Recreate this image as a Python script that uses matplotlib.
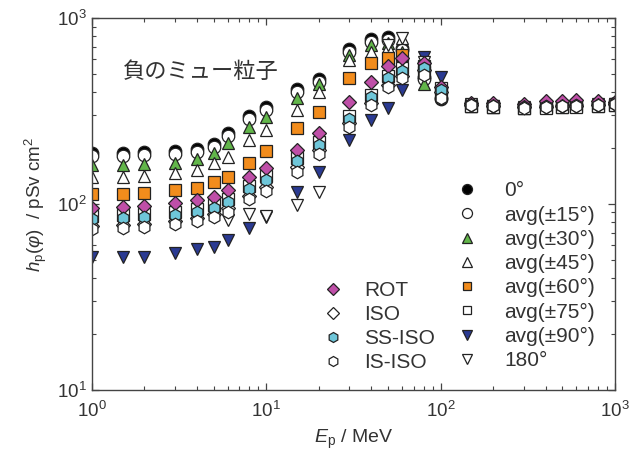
import matplotlib
matplotlib.use("Agg")
import matplotlib.pyplot as plt
from matplotlib.ticker import LogLocator, LogFormatterMathtext, NullFormatter

plt.rcParams["font.family"] = ["Liberation Sans", "DejaVu Sans"]
plt.rcParams["mathtext.fontset"] = "custom"
plt.rcParams["mathtext.rm"] = "Liberation Sans"
plt.rcParams["mathtext.it"] = "Liberation Sans:italic"
plt.rcParams["mathtext.bf"] = "Liberation Sans:bold"

# Energy grid (MeV)
energy = [1, 1.5, 2, 3, 4, 5, 6, 8, 10, 15, 20, 30, 40, 50, 60, 80, 100,
          150, 200, 300, 400, 500, 600, 800, 1000]

# Conversion coefficients h_p(phi), pSv cm^2
h_0 = [188, 188, 190, 193, 198, 210, 241, 297, 332, 415, 470, 681, 771, 790, 690,
       482, 365, 345, 340, 335, 338, 340, 342, 345, 348]
h_15 = [181, 181, 183, 186, 190, 203, 232, 286, 320, 400, 453, 657, 743, 761, 673,
        470, 372, 342, 338, 333, 336, 338, 340, 343, 346]
h_30 = [162, 162, 164, 166, 175, 188, 213, 259, 294, 372, 442, 633, 716, 734, 657,
        442, 385, 340, 336, 332, 335, 337, 339, 342, 345]
h_45 = [140, 140, 141, 147, 152, 166, 179, 221, 250, 320, 400, 595, 657, 698, 780,
        552, 410, 338, 334, 330, 333, 335, 337, 340, 343]
h_60 = [113, 113, 115, 119, 122, 131, 140, 166, 193, 256, 312, 476, 573, 610, 633,
        513, 400, 336, 332, 328, 331, 333, 335, 338, 341]
h_75 = [86, 87, 88, 91, 94, 99, 106, 125, 141, 177, 215, 297, 385, 488, 539,
        552, 420, 335, 331, 327, 330, 332, 334, 337, 340]
h_90 = [52, 52, 52, 54.5, 57, 59, 64, 74, 85, 116, 149, 221, 283, 328, 410,
        617, 482, 340, 335, 330, 333, 335, 338, 341, 344]
h_180 = [77, 77, 78, 80, 82, 86, 82, 88, 86, 99, 116, 256, 362, 716, 780,
         580, 381, 343, 338, 334, 336, 338, 340, 343, 346]
h_rot = [95, 96, 98, 101, 105, 109, 119, 140, 156, 195, 241, 354, 453, 552, 610,
         573, 426, 350, 348, 345, 358, 360, 362, 360, 352]
h_iso = [76, 77, 78, 81, 84, 88, 95, 110, 123, 158, 195, 273, 349, 436, 488,
         525, 400, 340, 336, 331, 334, 336, 338, 341, 344]
h_ssiso = [83, 84, 85, 87, 91, 95, 102, 120, 135, 170, 208, 286, 376, 476, 519,
           539, 410, 341, 337, 332, 335, 337, 339, 342, 345]
h_isiso = [73, 74, 75, 78, 81, 85, 91, 106, 117, 149, 186, 259, 341, 426, 476,
           494, 372, 339, 335, 330, 333, 335, 337, 340, 343]

angle_labels = ["0°", "avg(±15°)", "avg(±30°)", "avg(±45°)", "avg(±60°)",
                "avg(±75°)", "avg(±90°)", "180°"]
geom_labels = ["ROT", "ISO", "SS-ISO", "IS-ISO"]

GREEN = "#62b64a"
ORANGE = "#f28c1c"
NAVY = "#2a3a92"
MAGENTA = "#bf4fa8"
CYAN = "#6ec6d9"
TEXT = "#333333"

angle_series = [h_0, h_15, h_30, h_45, h_60, h_75, h_90, h_180]
angle_styles = [
    dict(marker="o", mfc="black", ms=9),
    dict(marker="o", mfc="white", ms=9),
    dict(marker="^", mfc=GREEN, ms=9),
    dict(marker="^", mfc="white", ms=9),
    dict(marker="s", mfc=ORANGE, ms=8),
    dict(marker="s", mfc="white", ms=8),
    dict(marker="v", mfc=NAVY, ms=9),
    dict(marker="v", mfc="white", ms=9),
]
geom_series = [h_rot, h_iso, h_ssiso, h_isiso]
geom_styles = [
    dict(marker="D", mfc=MAGENTA, ms=7.5),
    dict(marker="D", mfc="white", ms=7.5),
    dict(marker="h", mfc=CYAN, ms=9),
    dict(marker="h", mfc="white", ms=9),
]

fig = plt.figure(figsize=(6.30, 4.62), dpi=100)
ax = fig.add_axes([0.146, 0.156, 0.830, 0.805])

angle_handles = []
for vals, st, lab in zip(angle_series, angle_styles, angle_labels):
    (ln,) = ax.plot(energy, vals, linestyle="none", mec="#222222", mew=0.9,
                    label=lab, **st)
    angle_handles.append(ln)

geom_handles = []
for vals, st, lab in zip(geom_series, geom_styles, geom_labels):
    (ln,) = ax.plot(energy, vals, linestyle="none", mec="#222222", mew=0.9,
                    label=lab, **st)
    geom_handles.append(ln)

ax.set_xscale("log")
ax.set_yscale("log")
ax.set_xlim(1, 1000)
ax.set_ylim(10, 1000)

ax.xaxis.set_major_locator(LogLocator(base=10, numticks=10))
ax.yaxis.set_major_locator(LogLocator(base=10, numticks=10))
ax.xaxis.set_minor_locator(LogLocator(base=10, subs=range(2, 10), numticks=50))
ax.yaxis.set_minor_locator(LogLocator(base=10, subs=range(2, 10), numticks=50))
ax.xaxis.set_major_formatter(LogFormatterMathtext())
ax.yaxis.set_major_formatter(LogFormatterMathtext())
ax.xaxis.set_minor_formatter(NullFormatter())
ax.yaxis.set_minor_formatter(NullFormatter())

ax.tick_params(which="both", direction="in", top=True, right=True,
               colors="#444444", labelcolor=TEXT, labelsize=13.5)
ax.tick_params(which="major", length=5, width=0.9)
ax.tick_params(which="minor", length=3, width=0.8)
ax.tick_params(axis="x", which="major", pad=8)
for sp in ax.spines.values():
    sp.set_color("#444444")
    sp.set_linewidth(1.0)

ax.set_xlabel(r"$E_{\rm p}$ / MeV", fontsize=14, color=TEXT, labelpad=5)
ax.set_ylabel(r"$h_{\rm p}(\varphi)$  / pSv cm$^{2}$", fontsize=13.5,
              color=TEXT, labelpad=6)

ax.text(0.06, 0.855, "負のミュー粒子", transform=ax.transAxes, fontsize=16,
        color=TEXT, family=["Noto Sans CJK JP", "DejaVu Sans"],
        va="center", ha="left")

leg1 = ax.legend(handles=angle_handles, loc="upper left",
                 bbox_to_anchor=(0.693, 0.561), frameon=False, fontsize=15,
                 markerscale=0.8, handlelength=1.2, handletextpad=1.2,
                 labelspacing=0.25, borderaxespad=0, borderpad=0)
for t in leg1.get_texts():
    t.set_color(TEXT)
ax.add_artist(leg1)

leg2 = ax.legend(handles=geom_handles, loc="upper left",
                 bbox_to_anchor=(0.437, 0.292), frameon=False, fontsize=15,
                 markerscale=0.8, handlelength=1.2, handletextpad=0.9,
                 labelspacing=0.24, borderaxespad=0, borderpad=0)
for t in leg2.get_texts():
    t.set_color(TEXT)

fig.savefig("out.png", dpi=100)
